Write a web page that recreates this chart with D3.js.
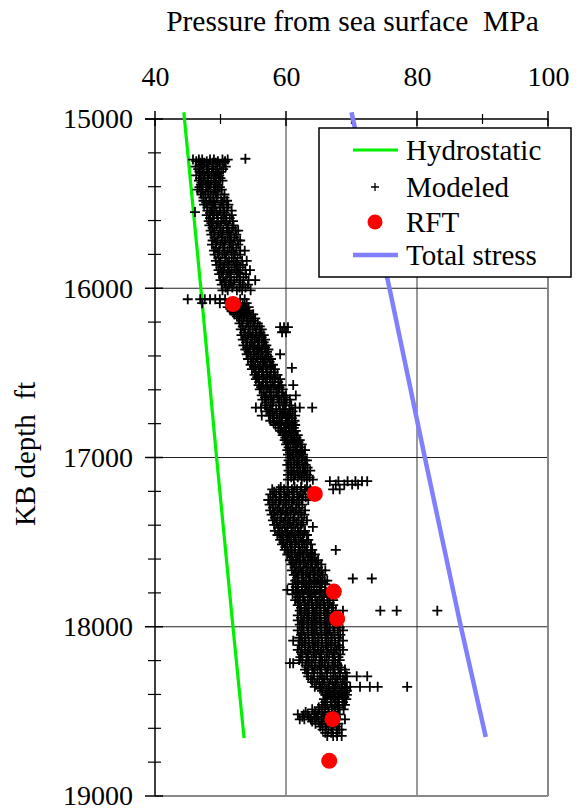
<!DOCTYPE html>
<html>
<head>
<meta charset="utf-8">
<script src="https://cdn.jsdelivr.net/npm/d3@7"></script>
<style>
  body { margin: 0; background: #fff; }
  svg text { font-family: "Liberation Serif", "DejaVu Serif", serif; fill: #000; }
</style>
</head>
<body>
<div id="chart"></div>
<script>
const serif = '"Liberation Serif", "DejaVu Serif", serif';

// Axis ticks
const xTicks = [40, 60, 80, 100];
const xMinor = [50, 70, 90];
const yTicks = [15000, 16000, 17000, 18000, 19000];
const yMinor = [15200, 15400, 15600, 15800, 16200, 16400, 16600, 16800,
                17200, 17400, 17600, 17800, 18200, 18400, 18600, 18800];

// Hydrostatic and total stress lines (depth ft, pressure MPa)
const hydroDepth = [14960, 16000, 17000, 18000, 18658];
const hydroP     = [44.4, 47.0, 49.4, 51.9, 53.6];
const stressDepth = [14960, 16000, 17000, 18000, 18652];
const stressP     = [70.0, 75.8, 81.2, 86.7, 90.5];

// RFT measurements
const rftDepth = [16093, 17215, 17792, 17953, 18546, 18792];
const rftP     = [51.9, 64.4, 67.3, 67.8, 67.1, 66.6];

// Modeled pressures: each row is [depth, pressure, pressure, ...]
const modeled = [
  [15235, 53.8],
  [15240, 45.8, 46.7, 47.2, 48.4, 49.0, 50.3, 51.1],
  [15249, 46.3, 47.9, 49.6, 50.7],
  [15258, 46.9, 47.5, 48.8, 49.3, 50.6],
  [15270, 47.1, 48.2, 49.9],
  [15281, 46.2, 47.4, 48.0, 49.2, 50.8],
  [15296, 46.6, 47.9, 48.9, 50.4],
  [15312, 46.8, 47.3, 48.7, 49.5, 50.1],
  [15322, 47.0, 48.3, 49.7],
  [15333, 46.3, 47.6, 48.1, 49.3, 49.8],
  [15349, 46.9, 48.0, 49.0, 50.0],
  [15364, 46.7, 47.4, 48.6, 49.1, 50.3],
  [15376, 47.1, 48.1, 49.3],
  [15388, 47.0, 47.8, 48.4, 49.6],
  [15402, 46.8, 48.0, 49.1, 49.9],
  [15417, 46.5, 47.3, 48.5, 49.0, 50.2],
  [15431, 47.0, 48.1, 49.3],
  [15446, 47.1, 47.7, 48.9, 49.6, 50.6],
  [15465, 47.4, 48.5, 49.4, 50.6],
  [15483, 47.4, 48.3, 48.9, 50.1, 51.0],
  [15494, 47.8, 49.0, 50.3],
  [15506, 47.5, 48.6, 49.2, 50.4, 51.2],
  [15523, 48.0, 49.0, 50.0, 51.0],
  [15541, 48.0, 48.7, 49.9, 50.5, 51.7],
  [15550, 46.1],
  [15555, 48.4, 49.4, 50.6],
  [15568, 47.9, 49.0, 49.6, 50.9, 51.7],
  [15586, 48.4, 49.5, 50.4, 51.4],
  [15603, 48.2, 48.8, 50.1, 50.7, 51.9],
  [15615, 48.6, 49.6, 50.9],
  [15628, 48.3, 49.4, 50.0, 51.2, 52.0],
  [15643, 48.8, 50.0, 51.0, 51.8],
  [15659, 48.5, 49.1, 50.4, 51.0, 52.3, 52.7],
  [15671, 49.0, 50.0, 51.3],
  [15683, 48.6, 49.7, 50.3, 51.6, 52.4],
  [15700, 49.1, 50.2, 51.1, 52.1],
  [15718, 48.8, 49.5, 50.7, 51.4, 52.6, 53.0],
  [15730, 49.3, 50.3, 51.6],
  [15742, 48.7, 50.0, 50.6, 51.9, 52.7],
  [15760, 49.3, 50.4, 51.4, 52.4],
  [15778, 49.0, 49.8, 51.1, 51.7, 53.0, 53.7],
  [15790, 49.6, 50.6, 52.0],
  [15801, 49.1, 50.3, 50.9, 52.2, 53.0],
  [15820, 49.7, 50.7, 51.7, 52.6],
  [15838, 49.3, 50.0, 51.3, 52.0, 53.3, 54.0],
  [15850, 49.9, 51.0, 52.4],
  [15862, 49.4, 50.6, 51.2, 52.6, 53.4],
  [15877, 50.0, 51.1, 52.1, 53.0],
  [15893, 49.7, 50.4, 51.7, 52.4, 53.8, 54.5],
  [15905, 50.2, 51.3, 52.7],
  [15917, 49.8, 51.0, 51.6, 53.0, 53.9],
  [15935, 50.4, 51.4, 52.5, 53.5],
  [15952, 50.0, 50.8, 52.1, 52.9, 54.3, 55.3],
  [15965, 50.6, 51.6, 53.0],
  [15978, 50.2, 51.3, 52.0, 53.4, 54.2],
  [15995, 50.8, 51.8, 52.9, 53.8],
  [16012, 50.3, 51.1, 52.5, 53.3, 54.6],
  [16065, 45.0, 46.9, 47.6, 48.4, 49.2, 49.9, 50.7, 53.0, 53.7],
  [16088, 47.2, 49.9, 51.0, 52.8, 54.0],
  [16100, 52.4, 53.4],
  [16112, 51.1, 51.8, 53.0, 53.6, 54.3],
  [16122, 51.5, 52.6, 53.8],
  [16133, 51.7, 52.4, 53.5, 54.2],
  [16144, 52.0, 53.0, 54.3],
  [16154, 52.1, 53.2, 53.9, 55.0],
  [16166, 52.5, 53.6, 54.6],
  [16178, 52.8, 53.5, 54.6, 55.3],
  [16192, 53.2, 54.2, 55.0],
  [16207, 52.9, 54.0, 54.6, 55.7],
  [16225, 53.4, 54.3, 55.2, 56.0],
  [16230, 59.1, 59.7, 60.3],
  [16243, 53.1, 53.8, 54.9, 55.5, 56.3],
  [16260, 59.4, 60.0],
  [16262, 53.6, 54.5, 55.4, 56.1],
  [16277, 53.2, 54.2, 54.9, 55.9, 56.6],
  [16290, 53.8, 54.7, 55.5, 56.3],
  [16303, 53.4, 54.1, 55.2, 55.9, 56.8],
  [16320, 53.9, 54.8, 55.7, 56.6],
  [16338, 53.5, 54.5, 55.2, 56.3, 57.0],
  [16350, 54.1, 55.0, 55.9, 56.8],
  [16362, 53.8, 54.5, 55.6, 56.3, 57.3],
  [16376, 54.3, 55.2, 56.2, 57.1],
  [16390, 54.0, 55.1, 55.8, 57.0, 59.1],
  [16404, 54.6, 55.5, 56.4, 57.3],
  [16418, 54.2, 55.0, 56.1, 56.8, 57.7],
  [16435, 54.8, 55.7, 56.6, 57.5],
  [16452, 54.6, 55.3, 56.4, 57.1, 58.0],
  [16465, 55.1, 56.0, 56.9, 57.7],
  [16470, 60.9],
  [16478, 54.8, 55.8, 56.5, 57.6, 58.3],
  [16495, 55.4, 56.3, 57.2, 58.1],
  [16512, 55.2, 55.9, 57.0, 57.7, 58.7],
  [16525, 55.6, 56.6, 57.5, 58.4],
  [16537, 55.4, 56.4, 57.1, 58.2, 59.1],
  [16555, 55.9, 56.9, 57.9, 58.8],
  [16572, 55.8, 56.5, 57.6, 58.3, 59.3, 61.1],
  [16585, 56.2, 57.2, 58.1, 59.0],
  [16598, 56.0, 57.0, 57.7, 58.8, 59.5],
  [16615, 56.6, 57.5, 58.5, 59.4],
  [16633, 56.3, 57.0, 58.1, 58.9, 60.0, 61.5],
  [16645, 56.8, 57.7, 58.7, 59.7],
  [16658, 56.4, 57.3, 58.1, 59.3, 60.1, 60.6],
  [16675, 57.0, 58.0, 59.0, 60.0],
  [16692, 56.8, 57.7, 58.9, 59.7, 60.8],
  [16705, 55.4, 56.2, 57.0, 61.4, 62.1, 64.0],
  [16715, 57.5, 58.5, 59.5, 60.5],
  [16728, 57.1, 57.9, 59.1, 59.9, 61.0],
  [16740, 57.6, 58.6, 59.7, 60.6],
  [16752, 56.3, 57.4, 58.2, 59.4, 60.3, 61.4],
  [16767, 58.0, 59.0, 60.0, 60.9],
  [16783, 57.6, 58.6, 59.3, 60.5, 61.3],
  [16795, 58.1, 59.0, 60.2, 61.0],
  [16808, 58.4, 59.3, 59.9, 60.9, 61.4],
  [16825, 58.8, 59.7, 60.4, 61.2],
  [16843, 59.1, 60.0, 60.6, 61.5],
  [16855, 59.5, 60.4, 61.1],
  [16868, 59.5, 60.2, 61.2, 61.8],
  [16882, 59.9, 60.9, 61.6],
  [16897, 59.8, 60.7, 61.3, 62.1],
  [16910, 60.2, 61.1, 61.9],
  [16922, 60.0, 60.7, 61.7, 62.4],
  [16940, 60.4, 61.4, 62.2],
  [16957, 60.2, 61.1, 61.7, 62.5, 62.9],
  [16970, 60.6, 61.5, 62.3],
  [16983, 60.3, 61.0, 62.0, 62.6],
  [17000, 60.7, 61.6, 62.4],
  [17017, 60.4, 61.2, 61.9, 62.9, 63.2],
  [17030, 60.7, 61.7, 62.5],
  [17043, 60.2, 61.3, 62.0, 63.0],
  [17060, 60.8, 61.7, 62.6, 63.3],
  [17078, 60.4, 61.1, 62.2, 62.9, 63.7],
  [17090, 60.8, 61.8, 62.7],
  [17103, 60.3, 61.4, 62.1, 63.2],
  [17117, 60.8, 61.8, 62.8, 63.6],
  [17131, 60.3, 61.2, 62.4, 63.2, 64.1],
  [17140, 66.7, 68.0, 69.4, 70.6, 71.6, 72.4],
  [17160, 67.6, 68.9, 70.1, 71.0],
  [17175, 59.2, 60.3, 61.3, 62.3, 63.2],
  [17188, 57.9, 58.9, 59.7, 60.9, 61.7, 62.9, 63.7, 67.2, 68.2],
  [17203, 58.2, 59.2, 60.2, 61.2, 62.2],
  [17218, 57.6, 58.5, 59.7, 60.5, 61.7, 62.6],
  [17235, 58.0, 59.0, 60.0, 61.0, 62.0, 63.0],
  [17251, 57.3, 58.4, 59.2, 60.4, 61.2, 62.4, 63.4],
  [17265, 57.9, 58.9, 59.9, 60.9, 61.9],
  [17279, 57.5, 58.4, 59.6, 60.4, 61.6, 62.5],
  [17296, 58.0, 59.0, 60.0, 61.0, 62.0],
  [17312, 57.6, 58.7, 59.5, 60.7, 61.5, 62.9],
  [17325, 58.2, 59.2, 60.2, 61.2, 62.3],
  [17338, 57.8, 58.7, 59.9, 60.7, 61.9, 62.8],
  [17355, 58.3, 59.3, 60.3, 61.3, 62.4],
  [17372, 58.0, 59.1, 59.9, 61.1, 61.9, 63.2],
  [17385, 58.6, 59.6, 60.6, 61.6, 62.6],
  [17398, 58.2, 59.1, 60.3, 61.1, 62.3],
  [17410, 64.1],
  [17415, 58.8, 59.8, 60.8, 61.8],
  [17433, 58.3, 59.4, 60.2, 61.4, 62.2, 62.9],
  [17445, 59.0, 60.0, 60.9, 61.9, 62.8],
  [17458, 58.7, 59.5, 60.6, 61.4, 62.6, 63.2],
  [17472, 59.3, 60.3, 61.2, 62.2],
  [17487, 59.1, 60.1, 60.8, 61.9, 62.6, 63.4],
  [17500, 59.6, 60.6, 61.5, 62.4, 63.2],
  [17513, 59.4, 60.2, 61.3, 62.0, 63.1, 63.8],
  [17530, 59.9, 60.9, 61.9, 62.8],
  [17546, 59.8, 60.7, 61.4, 62.5, 63.2, 64.0, 67.6],
  [17560, 60.4, 61.3, 62.2, 63.1, 63.8],
  [17573, 60.2, 60.9, 62.0, 62.7, 63.8, 64.4],
  [17590, 60.8, 61.7, 62.6, 63.5, 64.3],
  [17607, 60.6, 61.5, 62.2, 63.3, 64.0, 64.9],
  [17620, 61.1, 62.0, 62.9, 63.8, 64.6],
  [17632, 60.8, 61.6, 62.7, 63.4, 64.5, 65.4],
  [17650, 61.3, 62.2, 63.1, 64.0, 64.9],
  [17667, 60.9, 61.9, 62.6, 63.7, 64.4, 65.4, 66.0],
  [17680, 61.5, 62.4, 63.3, 64.2, 65.1],
  [17693, 61.2, 61.9, 63.0, 63.7, 64.8, 65.6],
  [17710, 61.7, 62.6, 63.5, 64.4, 65.3],
  [17715, 70.2, 73.1],
  [17727, 61.4, 62.4, 63.1, 64.2, 64.9, 65.9, 66.3],
  [17738, 61.8, 62.7, 63.6, 64.6, 65.5],
  [17748, 61.0, 61.9, 63.1, 63.9, 65.1, 66.0],
  [17765, 61.5, 62.4, 63.4, 64.3, 65.2],
  [17782, 60.2, 61.1, 61.8, 62.9, 63.6, 64.7, 65.4, 66.0],
  [17795, 61.6, 62.5, 63.4, 64.3, 65.2, 66.1],
  [17808, 61.0, 62.0, 62.7, 63.8, 64.5, 65.6, 66.5],
  [17825, 61.7, 62.6, 63.6, 64.5, 65.4, 66.3],
  [17843, 61.4, 62.2, 63.3, 64.0, 65.1, 65.8, 67.2],
  [17858, 62.0, 62.9, 63.9, 64.8, 65.7, 66.7],
  [17872, 61.8, 62.8, 63.5, 64.6, 65.3, 66.4, 67.2],
  [17888, 62.3, 63.2, 64.2, 65.1, 66.0, 67.0],
  [17905, 62.1, 62.9, 64.0, 64.7, 65.8, 66.5, 67.6, 68.7, 74.4, 76.9, 83.1],
  [17920, 62.4, 63.3, 64.3, 65.2, 66.1, 67.0],
  [17933, 61.8, 62.8, 63.5, 64.6, 65.3, 66.4, 67.2],
  [17948, 62.3, 63.2, 64.2, 65.1, 66.0, 67.5],
  [17962, 61.8, 62.7, 63.9, 64.7, 65.9, 66.7, 68.2],
  [17975, 62.5, 63.4, 64.4, 65.3, 66.3, 67.2],
  [17988, 62.1, 63.2, 64.0, 65.2, 66.0, 67.2, 68.0],
  [18005, 62.4, 63.4, 64.3, 65.3, 66.3, 67.3, 68.2],
  [18022, 61.8, 62.7, 63.9, 64.7, 65.9, 66.7, 67.9, 68.7],
  [18035, 62.4, 63.4, 64.4, 65.4, 66.4, 67.4],
  [18048, 62.3, 63.4, 64.2, 65.4, 66.2, 67.4, 68.3],
  [18065, 62.0, 63.0, 64.0, 65.0, 66.0, 67.0, 68.0],
  [18082, 61.1, 62.1, 62.9, 64.1, 64.9, 66.1, 66.9, 68.1, 68.7],
  [18095, 62.5, 63.5, 64.5, 65.5, 66.5, 67.5],
  [18108, 62.0, 62.9, 64.1, 64.9, 66.1, 66.9, 68.0],
  [18122, 62.4, 63.4, 64.4, 65.4, 66.4, 67.4, 68.2],
  [18137, 61.8, 62.9, 63.7, 64.9, 65.7, 66.9, 67.7, 68.7],
  [18150, 62.3, 63.3, 64.3, 65.3, 66.3, 67.3],
  [18163, 62.5, 63.4, 64.6, 65.4, 66.6, 67.4, 68.3],
  [18180, 62.2, 63.2, 64.2, 65.2, 66.2, 67.2, 68.0],
  [18197, 62.0, 63.1, 63.9, 65.1, 65.9, 67.1, 68.2],
  [18212, 62.5, 63.5, 64.5, 65.5, 66.5, 67.5],
  [18215, 60.6, 61.1],
  [18228, 63.0, 63.9, 65.1, 65.9, 67.1, 67.9],
  [18240, 63.4, 64.4, 65.4, 66.4, 67.4, 68.4],
  [18253, 62.9, 64.0, 64.8, 66.0, 66.8, 68.0, 69.0],
  [18273, 63.2, 64.2, 65.2, 66.2, 67.2, 68.2, 69.1],
  [18293, 63.4, 64.3, 65.5, 66.3, 67.5, 68.3, 69.3, 70.8, 72.4],
  [18310, 63.8, 64.8, 65.8, 66.8, 67.8, 68.7],
  [18327, 64.0, 65.1, 65.9, 67.1, 67.9, 69.0],
  [18341, 64.6, 65.6, 66.6, 67.6, 68.6],
  [18355, 64.4, 65.3, 66.5, 67.3, 68.5, 69.3, 69.8, 71.3, 72.8, 74.0, 78.5],
  [18366, 65.2, 66.2, 67.2, 68.2, 69.0],
  [18378, 65.5, 66.6, 67.4, 68.6, 69.3],
  [18390, 66.2, 67.2, 68.2, 69.0],
  [18403, 66.0, 66.8, 67.9, 68.5, 69.3],
  [18415, 66.3, 67.2, 68.1, 68.9],
  [18428, 65.8, 66.8, 67.5, 68.6, 69.2],
  [18445, 66.0, 66.9, 67.8, 68.7],
  [18462, 65.5, 66.3, 67.4, 68.1, 69.0],
  [18475, 65.0, 66.0, 67.0, 68.0],
  [18488, 64.0, 65.1, 65.9, 67.1, 67.9, 68.8],
  [18503, 63.0, 64.5, 65.5, 66.5, 67.5],
  [18518, 61.8, 62.7, 63.3, 64.3, 64.9, 65.9, 66.5, 67.5, 68.2],
  [18532, 62.5, 63.5, 64.7, 65.7, 66.7, 67.6],
  [18547, 62.1, 62.8, 63.8, 64.4, 65.4, 66.0, 67.9, 69.0],
  [18560, 64.0, 65.0, 66.0, 67.0],
  [18573, 64.5, 65.5, 66.2, 67.3, 68.0],
  [18590, 65.2, 66.1, 67.0, 67.8],
  [18608, 65.6, 66.5, 67.1, 68.1, 68.5],
  [18627, 66.0, 66.9, 67.7],
  [18645, 66.3, 67.2, 67.8, 68.5]
];

const legendItems = ["Hydrostatic", "Modeled", "RFT", "Total stress"];

// Margins and dimensions
const margin = {top: 119, right: 37, bottom: 16, left: 155},
    width = 585 - margin.left - margin.right,
    height = 812 - margin.top - margin.bottom;

const root = d3.select("#chart")
  .append("svg")
    .attr("width", width + margin.left + margin.right)
    .attr("height", height + margin.top + margin.bottom)
    .attr("font-family", serif);

const svg = root.append("g")
    .attr("transform", `translate(${margin.left},${margin.top})`);

const x = d3.scaleLinear().domain([40, 100]).range([0, width]);
const y = d3.scaleLinear().domain([15000, 19000]).range([0, height]);

// grid lines
svg.append("g")
  .selectAll("line")
  .data([60, 80])
  .join("line")
    .attr("x1", d => x(d)).attr("x2", d => x(d))
    .attr("y1", 0).attr("y2", height)
    .attr("stroke", "#555").attr("stroke-width", 1.2);
svg.append("g")
  .selectAll("line")
  .data([16000, 17000, 18000])
  .join("line")
    .attr("x1", 0).attr("x2", width)
    .attr("y1", d => y(d)).attr("y2", d => y(d))
    .attr("stroke", "#222").attr("stroke-width", 1.2);

// frame, right and bottom in grey
svg.append("line")
  .attr("x1", x(100)).attr("x2", x(100)).attr("y1", 0).attr("y2", height)
  .attr("stroke", "#888").attr("stroke-width", 2);
svg.append("line")
  .attr("x1", 0).attr("x2", width).attr("y1", y(19000)).attr("y2", y(19000))
  .attr("stroke", "#888").attr("stroke-width", 2);

// top axis
svg.append("g")
  .call(d3.axisTop(x).tickValues(xTicks).tickSize(0).tickPadding(33))
  .call(g => g.select(".domain").remove())
  .selectAll("text")
    .style("font-family", serif)
    .style("font-size", "28px");
svg.append("line")
  .attr("x1", -10).attr("x2", width).attr("y1", 0).attr("y2", 0)
  .attr("stroke", "#000").attr("stroke-width", 1.5);
svg.append("g")
  .selectAll("line")
  .data(xTicks)
  .join("line")
    .attr("x1", d => x(d)).attr("x2", d => x(d))
    .attr("y1", -8).attr("y2", 7)
    .attr("stroke", "#000").attr("stroke-width", 1.5);
svg.append("g")
  .selectAll("line")
  .data(xMinor)
  .join("line")
    .attr("x1", d => x(d)).attr("x2", d => x(d))
    .attr("y1", -5).attr("y2", 5)
    .attr("stroke", "#000").attr("stroke-width", 1.2);

// left axis
svg.append("g")
  .call(d3.axisLeft(y).tickValues(yTicks).tickSize(0).tickPadding(22).tickFormat(d3.format("d")))
  .call(g => g.select(".domain").remove())
  .selectAll("text")
    .style("font-family", serif)
    .style("font-size", "28px");
svg.append("line")
  .attr("x1", 0).attr("x2", 0).attr("y1", 0).attr("y2", height)
  .attr("stroke", "#000").attr("stroke-width", 1.5);
svg.append("g")
  .selectAll("line")
  .data(yTicks)
  .join("line")
    .attr("x1", -10).attr("x2", 8)
    .attr("y1", d => y(d)).attr("y2", d => y(d))
    .attr("stroke", "#000").attr("stroke-width", 1.5);
svg.append("g")
  .selectAll("line")
  .data(yMinor)
  .join("line")
    .attr("x1", -7).attr("x2", 6)
    .attr("y1", d => y(d)).attr("y2", d => y(d))
    .attr("stroke", "#000").attr("stroke-width", 1.2);

// axis titles
root.append("text")
  .attr("x", margin.left + width / 2 + 1)
  .attr("y", 31)
  .attr("text-anchor", "middle")
  .style("font-family", serif)
  .style("font-size", "29.5px")
  .style("white-space", "pre")
  .text("Pressure from sea surface  MPa");
root.append("text")
  .attr("transform", `translate(35,454)rotate(-90)`)
  .attr("text-anchor", "middle")
  .style("font-family", serif)
  .style("font-size", "29px")
  .style("white-space", "pre")
  .text("KB depth  ft");

// hydrostatic line
const line = d3.line().x(d => x(d[1])).y(d => y(d[0]));
svg.append("path")
  .datum(hydroDepth.map((d, i) => [d, hydroP[i]]))
  .attr("d", line)
  .attr("fill", "none")
  .attr("stroke", "#00f000")
  .attr("stroke-width", 3.2);

// modeled points
const pts = modeled.flatMap(r => r.slice(1).map(p => ({depth: r[0], p: p})));
const cross = "M-5,0H5M0,-5V5";
svg.append("g")
  .selectAll("path")
  .data(pts)
  .join("path")
    .attr("transform", d => `translate(${x(d.p)},${y(d.depth)})`)
    .attr("d", cross)
    .attr("stroke", "#000")
    .attr("stroke-width", 1.8);

// RFT points
svg.append("g")
  .selectAll("circle")
  .data(rftDepth.map((d, i) => ({depth: d, p: rftP[i]})))
  .join("circle")
    .attr("cx", d => x(d.p))
    .attr("cy", d => y(d.depth))
    .attr("r", 8)
    .attr("fill", "#ff0000");

// total stress line
svg.append("path")
  .datum(stressDepth.map((d, i) => [d, stressP[i]]))
  .attr("d", line)
  .attr("fill", "none")
  .attr("stroke", "#8080ff")
  .attr("stroke-width", 4.5);

// legend
const legend = root.append("g").attr("transform", "translate(319,128)");
legend.append("rect")
  .attr("width", 252).attr("height", 149)
  .attr("fill", "#fff").attr("stroke", "#000").attr("stroke-width", 1.5);
const rows = [22, 59, 94, 127];
const item = legend.selectAll("g.item")
  .data(legendItems)
  .join("g")
    .attr("class", "item")
    .attr("transform", (d, i) => `translate(0,${rows[i]})`);
item.append("text")
  .attr("x", 87).attr("y", 10)
  .style("font-family", serif)
  .style("font-size", "29px")
  .text(d => d);
item.filter((d, i) => i === 0).append("line")
  .attr("x1", 34).attr("x2", 79)
  .attr("stroke", "#00f000").attr("stroke-width", 3.2);
item.filter((d, i) => i === 1).append("path")
  .attr("transform", "translate(56,0)")
  .attr("d", "M-4,0H4M0,-4V4")
  .attr("stroke", "#000").attr("stroke-width", 1.3);
item.filter((d, i) => i === 2).append("circle")
  .attr("cx", 56).attr("r", 7.5).attr("fill", "#ff0000");
item.filter((d, i) => i === 3).append("line")
  .attr("x1", 34).attr("x2", 79)
  .attr("stroke", "#8080ff").attr("stroke-width", 4.5);
</script>
</body>
</html>
